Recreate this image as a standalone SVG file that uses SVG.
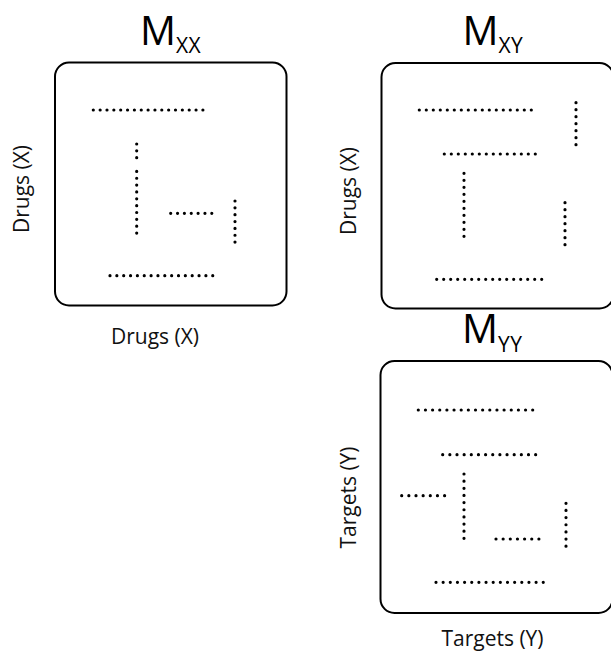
<svg xmlns="http://www.w3.org/2000/svg" width="611" height="652" viewBox="0 0 611 652">
<style>
  .box { fill: #ffffff; stroke: #000000; stroke-width: 2; }
  .lbl { font-family: "Open Sans", "Noto Sans", sans-serif; font-size: 21px; fill: #111111; }
  .ttl { font-family: "Open Sans", "Noto Sans", sans-serif; font-size: 40px; fill: #000000; }
  .sub { font-size: 21px; letter-spacing: 0.5px; }
  .d1 { stroke: #000; stroke-width: 3.2; stroke-linecap: round; stroke-dasharray: 0 6.85; fill: none; }
  .d2 { stroke: #000; stroke-width: 3.2; stroke-linecap: round; stroke-dasharray: 0 7; fill: none; }
  .d3 { stroke: #000; stroke-width: 3.2; stroke-linecap: round; stroke-dasharray: 0 7.15; fill: none; }
</style>
<rect width="611" height="652" fill="#ffffff"/>

<g id="mxx">
  <rect class="box" x="55" y="62.5" width="231.5" height="243" rx="14"/>
  <text class="ttl" x="140" y="45">M<tspan class="sub" dy="7.5">XX</tspan></text>
  <text class="lbl" x="155" y="344" text-anchor="middle">Drugs (X)</text>
  <text class="lbl" transform="translate(29,189) rotate(-90)" text-anchor="middle">Drugs (X)</text>
  <g id="mxx-dots">
    <line class="d1" x1="93.3" y1="110" x2="203.5" y2="110"/>
    <line class="d1" x1="136.7" y1="144" x2="136.7" y2="158.2"/>
    <line class="d1" x1="136.7" y1="171.4" x2="136.7" y2="233.6"/>
    <line class="d1" x1="170.7" y1="213.3" x2="212.3" y2="213.3"/>
    <line class="d1" x1="235" y1="201" x2="235" y2="242.6"/>
    <line class="d1" x1="110" y1="275.7" x2="213.2" y2="275.7"/>
  </g>
</g>

<g id="mxy">
  <rect class="box" x="381.5" y="63" width="232" height="245.5" rx="14"/>
  <text class="ttl" x="462.5" y="45">M<tspan class="sub" dy="7.5">XY</tspan></text>
  <text class="lbl" transform="translate(355.5,191) rotate(-90)" text-anchor="middle">Drugs (X)</text>
  <g id="mxy-dots">
    <line class="d2" x1="419.3" y1="110" x2="531.8" y2="110"/>
    <line class="d2" x1="576" y1="102.7" x2="576" y2="145.2"/>
    <line class="d2" x1="444.3" y1="154" x2="535.8" y2="154"/>
    <line class="d2" x1="464" y1="173.3" x2="464" y2="236.8"/>
    <line class="d2" x1="565" y1="202.7" x2="565" y2="245.2"/>
    <line class="d2" x1="436.7" y1="279.3" x2="542.2" y2="279.3"/>
  </g>
</g>

<g id="myy">
  <rect class="box" x="380.5" y="361" width="232" height="252" rx="14"/>
  <text class="ttl" x="462" y="342.7">M<tspan class="sub" dy="9">YY</tspan></text>
  <text class="lbl" x="492.5" y="646" text-anchor="middle">Targets (Y)</text>
  <text class="lbl" transform="translate(355.5,497.5) rotate(-90)" text-anchor="middle">Targets (Y)</text>
  <g id="myy-dots">
    <line class="d3" x1="418.3" y1="410" x2="533.2" y2="410"/>
    <line class="d3" x1="442.7" y1="454.7" x2="536.2" y2="454.7"/>
    <line class="d3" x1="401.7" y1="495.7" x2="445.1" y2="495.7"/>
    <line class="d3" x1="464" y1="474" x2="464" y2="538.9"/>
    <line class="d3" x1="496" y1="539" x2="539.4" y2="539"/>
    <line class="d3" x1="566" y1="503.3" x2="566" y2="546.7"/>
    <line class="d3" x1="436" y1="582.3" x2="543.8" y2="582.3"/>
  </g>
</g>
</svg>
